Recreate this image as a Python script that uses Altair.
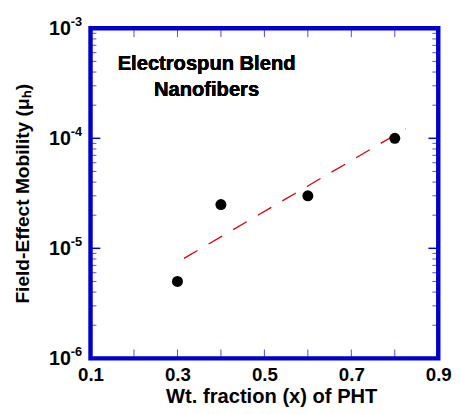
import altair as alt
import pandas as pd

# ---- data ----
wt_fraction = [0.3, 0.4, 0.6, 0.8]
mobility = [5e-6, 2.5e-5, 3e-5, 1e-4]

trend_x = [0.315, 0.825]
trend_y = [8.1e-6, 1.22e-4]

x_label_values = [0.1, 0.3, 0.5, 0.7, 0.9]
x_minor_ticks = [0.2, 0.3, 0.4, 0.5, 0.6, 0.7, 0.8]
decades = [1e-6, 1e-5, 1e-4, 1e-3]
decade_exps = ["-6", "-5", "-4", "-3"]
minor_mult = [2, 3, 4, 5, 6, 7, 8, 9]
minor_ticks = [m * d for d in decades[:-1] for m in minor_mult]

W, H = 354, 336
FONT = "Liberation Sans"
BLUE = "#0000cc"

pts = pd.DataFrame({"x": wt_fraction, "y": mobility})
trend = pd.DataFrame({"x": trend_x, "y": trend_y})
dec = pd.DataFrame({"y": decades, "e": decade_exps, "b": ["10"] * 4})
minor = pd.DataFrame({"y": minor_ticks})
xt = pd.DataFrame({"x": x_minor_ticks})

xs = alt.Scale(domain=[0.1, 0.9], nice=False, zero=False)
ys = alt.Scale(type="log", domain=[1e-6, 1e-3], nice=False)

xenc = alt.X("x:Q", scale=xs, axis=alt.Axis(
    values=x_label_values, format=".1f", ticks=False, domain=False, grid=False,
    labelFont=FONT, labelFontWeight="bold", labelFontSize=19, labelColor="black",
    labelPadding=8, labelFlush=False,
    title="Wt. fraction (x) of PHT", titleFont=FONT, titleFontWeight="bold",
    titleFontSize=20.5, titleColor="black", titleX=184, titleY=45,
    titleBaseline="alphabetic", titleAlign="center"))
yenc = alt.Y("y:Q", scale=ys, axis=alt.Axis(
    labels=False, ticks=False, domain=False, grid=False,
    title="Field-Effect Mobility (μₕ)", titleFont=FONT, titleFontWeight="bold",
    titleFontSize=19.5, titleColor="black", titleX=-63, titleY=H / 2,
    titleAngle=270, titleBaseline="alphabetic", titleAlign="center"))

points = alt.Chart(pts).mark_circle(size=125, color="black", opacity=1).encode(x=xenc, y=yenc)
line = alt.Chart(trend).mark_line(color="#dd0000", strokeWidth=1.3, strokeDash=[16, 13]).encode(
    x=alt.X("x:Q", scale=xs), y=alt.Y("y:Q", scale=ys))

y_major_l = alt.Chart(dec).mark_rule(color=BLUE, strokeWidth=1.5).encode(
    y=alt.Y("y:Q", scale=ys), x=alt.value(0), x2=alt.value(10))
y_major_r = alt.Chart(dec).mark_rule(color=BLUE, strokeWidth=1.5).encode(
    y=alt.Y("y:Q", scale=ys), x=alt.value(W), x2=alt.value(W - 10))
y_minor_l = alt.Chart(minor).mark_rule(color=BLUE, strokeWidth=1, opacity=0.7).encode(
    y=alt.Y("y:Q", scale=ys), x=alt.value(0), x2=alt.value(6))
y_minor_r = alt.Chart(minor).mark_rule(color=BLUE, strokeWidth=1, opacity=0.7).encode(
    y=alt.Y("y:Q", scale=ys), x=alt.value(W), x2=alt.value(W - 6))
x_tick_b = alt.Chart(xt).mark_rule(color=BLUE, strokeWidth=1, opacity=0.7).encode(
    x=alt.X("x:Q", scale=xs), y=alt.value(H), y2=alt.value(H - 9))
x_tick_t = alt.Chart(xt).mark_rule(color=BLUE, strokeWidth=1, opacity=0.7).encode(
    x=alt.X("x:Q", scale=xs), y=alt.value(0), y2=alt.value(9))

lab_base = alt.Chart(dec).mark_text(font=FONT, fontWeight="bold", fontSize=20, color="black",
                                    align="right", baseline="middle", dy=1).encode(
    y=alt.Y("y:Q", scale=ys), x=alt.value(-20), text="b:N")
lab_exp = alt.Chart(dec).mark_text(font=FONT, fontWeight="bold", fontSize=13, color="black",
                                   align="left", baseline="middle", dy=-6).encode(
    y=alt.Y("y:Q", scale=ys), x=alt.value(-20), text="e:N")

note = alt.Chart(pts).mark_text(font=FONT, fontWeight="bold", fontSize=20.5, color="black",
                                align="center", baseline="alphabetic", lineHeight=27).encode(
    x=alt.datum(0.367), y=alt.datum(4.2e-4),
    text=alt.value(["Electrospun Blend", "Nanofibers"]))

chart = alt.layer(
    line, points, y_minor_l, y_minor_r, y_major_l, y_major_r, x_tick_b, x_tick_t,
    lab_base, lab_exp, note
).properties(
    width=W, height=H,
    autosize=alt.AutoSizeParams(type="none"),
    padding={"left": 84, "top": 17, "right": 15, "bottom": 52},
).configure_view(stroke=BLUE, strokeWidth=4.5)

chart.save("out.html", embed_options={"renderer": "svg", "actions": False})
